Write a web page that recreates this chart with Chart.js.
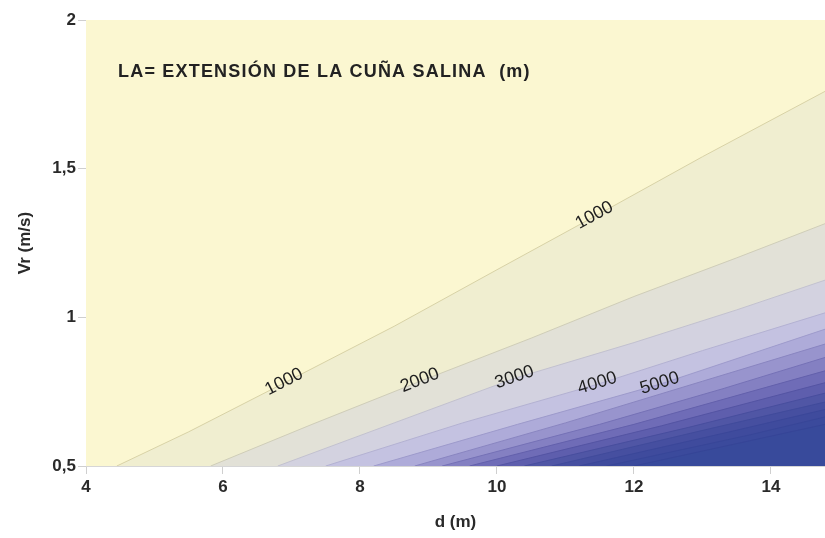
<!DOCTYPE html>
<html><head><meta charset="utf-8">
<script src="https://cdn.jsdelivr.net/npm/chart.js@4.4.1/dist/chart.umd.min.js"></script>
<style>html,body{margin:0;padding:0;background:#fff;} #wrap{width:825px;height:538px;position:relative}</style>
</head><body><div id="wrap"><canvas id="c" width="825" height="538"></canvas></div>
<script>
// ---- axis ranges & ticks ----
const dMin = 4, dMax = 14.79, vrMin = 0.5, vrMax = 2;
const xTicks = [4, 6, 8, 10, 12, 14];
const yTicks = [0.5, 1, 1.5, 2];
const yTickLabels = ['0,5', '1', '1,5', '2'];
const xTitle = 'd (m)';
const yTitle = 'Vr (m/s)';
const noteText = 'LA= EXTENSIÓN DE LA CUÑA SALINA  (m)';

// ---- contour levels (LA, m) and their lines [d, Vr] ----
const levels = [1000, 2000, 3000, 4000, 5000, 6000, 7000, 8000, 9000, 10000, 11000, 12000, 13000, 14000];
const contour1000  = [[4.45,0.5],[5.5,0.615],[6.9,0.78],[8.5,0.97],[10,1.16],[11.43,1.34],[13,1.54],[14.79,1.76]];
const contour2000  = [[5.82,0.5],[7.3,0.64],[8.88,0.785],[10.5,0.93],[12,1.07],[13.5,1.2],[14.79,1.315]];
const contour3000  = [[6.8,0.5],[8.5,0.645],[10.26,0.795],[12,0.915],[13.5,1.025],[14.79,1.125]];
const contour4000  = [[7.5,0.5],[9.5,0.645],[11.47,0.775],[13,0.888],[14.79,1.015]];
const contour5000  = [[8.2,0.5],[10.3,0.64],[12.38,0.775],[14.79,0.96]];
const contour6000  = [[8.8,0.5],[11,0.645],[13,0.785],[14.79,0.91]];
const contour7000  = [[9.2,0.5],[11.5,0.64],[13.3,0.76],[14.79,0.865]];
const contour8000  = [[9.6,0.5],[12,0.64],[14.79,0.82]];
const contour9000  = [[10.0,0.5],[12.4,0.635],[14.79,0.78]];
const contour10000 = [[10.4,0.5],[12.8,0.63],[14.79,0.745]];
const contour11000 = [[10.8,0.5],[13.1,0.625],[14.79,0.715]];
const contour12000 = [[11.2,0.5],[13.4,0.615],[14.79,0.69]];
const contour13000 = [[11.6,0.5],[13.7,0.605],[14.79,0.665]];
const contour14000 = [[12.0,0.5],[14.79,0.64]];
const contours = [contour1000, contour2000, contour3000, contour4000, contour5000, contour6000, contour7000,
                  contour8000, contour9000, contour10000, contour11000, contour12000, contour13000, contour14000];

// ---- band colours ----
const backgroundBand = '#FBF7D1';
const bandColors = ['#F0EED0','#E2E1D7','#D3D2E0','#C4C2E1','#AEABD9','#9894CD','#8480C2',
                    '#6F6CB7','#5E5EAD','#5056A5','#464FA0','#3F4B9D','#3B4A9C','#384A9B'];
const lineColors = ['#D8D2A6','#CFCDB8','#C2C1CF','#B3B1D2','#9D9ACB','#8985C0','#7571B6',
                    '#6360AC','#5454A3','#484E9E','#414B9B','#3B4799','#384698','#364597'];

// ---- contour labels ----
const labelText = ['1000', '1000', '2000', '3000', '4000', '5000'];
const labelLine = [0, 0, 1, 2, 3, 4];
const labelD    = [6.9, 11.43, 8.88, 10.26, 11.47, 12.38];

function interp(line, d) {
  for (let i = 0; i < line.length - 1; i++) {
    const a = line[i], b = line[i+1];
    if (d >= a[0] && d <= b[0]) return a[1] + (b[1]-a[1]) * (d - a[0]) / (b[0]-a[0]);
  }
  return d < line[0][0] ? line[0][1] : line[line.length-1][1];
}

const FONT = "'Liberation Sans', Arial, sans-serif";

const datasets = [{
  data: [{x: dMin, y: vrMax}, {x: dMax, y: vrMax}],
  borderWidth: 0, borderColor: 'rgba(0,0,0,0)', backgroundColor: backgroundBand,
  fill: 'start', pointRadius: 0, order: 100
}];
contours.forEach((ln, k) => {
  datasets.push({
    label: String(levels[k]),
    data: ln.map(p => ({x: p[0], y: p[1]})),
    borderColor: lineColors[k], borderWidth: 1, backgroundColor: bandColors[k],
    fill: 'start', pointRadius: 0, tension: 0, order: 50 - k
  });
});

const overlay = {
  id: 'overlay',
  afterDatasetsDraw(chart) {
    const {ctx, scales: {x, y}} = chart;
    ctx.save();
    ctx.fillStyle = '#222';
    ctx.font = "bold 18px " + FONT;
    ctx.letterSpacing = '1.2px';
    ctx.textBaseline = 'middle';
    ctx.textAlign = 'left';
    ctx.fillText(noteText, 118, 72);
    ctx.letterSpacing = '0px';
    ctx.font = "18px " + FONT;
    ctx.fillStyle = '#1e1e1e';
    ctx.textAlign = 'center';
    labelText.forEach((t, i) => {
      const ln = contours[labelLine[i]];
      const d = labelD[i];
      const v = interp(ln, d);
      const px = x.getPixelForValue(d), py = y.getPixelForValue(v);
      const x1 = x.getPixelForValue(d - 0.4), y1 = y.getPixelForValue(interp(ln, d - 0.4));
      const x2 = x.getPixelForValue(d + 0.4), y2 = y.getPixelForValue(interp(ln, d + 0.4));
      const ang = Math.atan2(y2 - y1, x2 - x1);
      ctx.save();
      ctx.translate(px, py);
      ctx.rotate(ang);
      ctx.fillText(t, 0, -1);
      ctx.restore();
    });
    ctx.restore();
  }
};

new Chart(document.getElementById('c'), {
  type: 'line',
  data: {datasets},
  plugins: [overlay],
  options: {
    responsive: false, animation: false, devicePixelRatio: 1,
    layout: {padding: {top: 20, right: 0, bottom: 0, left: 0}},
    plugins: {legend: {display: false}, tooltip: {enabled: false}, filler: {propagate: false}},
    scales: {
      x: {
        type: 'linear', min: dMin, max: dMax,
        afterBuildTicks: s => { s.ticks = xTicks.map(v => ({value: v})); },
        afterFit: s => { s.height = 72; },
        ticks: {color: '#2a2a2a', font: {family: FONT, size: 17, weight: 'bold'}, padding: 3, maxRotation: 0, autoSkip: false},
        grid: {drawOnChartArea: false, drawTicks: true, tickLength: 8, color: '#cfcfcf'},
        border: {display: true, color: '#d6d6d6'},
        title: {display: true, text: xTitle, color: '#2a2a2a', font: {family: FONT, size: 17, weight: 'bold'}, padding: {top: 0, bottom: 5}}
      },
      y: {
        type: 'linear', min: vrMin, max: vrMax,
        afterBuildTicks: s => { s.ticks = yTicks.map(v => ({value: v})); },
        afterFit: s => { s.width = 86; },
        ticks: {color: '#2a2a2a', font: {family: FONT, size: 17, weight: 'bold'}, padding: 2,
                callback: (v) => yTickLabels[yTicks.indexOf(v)]},
        grid: {drawOnChartArea: false, drawTicks: true, tickLength: 8, color: '#cfcfcf'},
        border: {display: true, color: '#d6d6d6'},
        title: {display: true, text: yTitle, color: '#2a2a2a', font: {family: FONT, size: 17, weight: 'bold'}, padding: {top: 15, bottom: 0}}
      }
    }
  }
});
</script></body></html>
